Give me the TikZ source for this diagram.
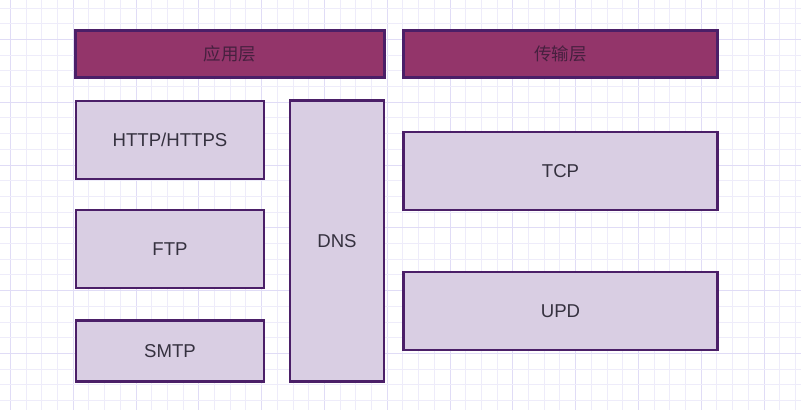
\documentclass[tikz,border=0pt]{standalone}
\usepackage{fontspec}
\setmainfont{Liberation Sans}
\newfontfamily\cjk{Noto Sans CJK SC}
\definecolor{gridminor}{HTML}{EEECFA}
\definecolor{gridmajor}{HTML}{E0DCF6}
\definecolor{headfill}{HTML}{93356A}
\definecolor{headtext}{HTML}{46203F}
\definecolor{boxfill}{HTML}{D9CEE3}
\definecolor{boxdraw}{HTML}{4B1F68}
\definecolor{boxtext}{HTML}{35313F}
\begin{document}
\begin{tikzpicture}[x=1pt,y=-1pt,
  gridline/.style={draw=gridminor,line width=0.9pt},
  gridbold/.style={draw=gridmajor,line width=1pt},
  basebox/.style={rectangle,draw=boxdraw,line width=2.2pt,inner sep=0pt,
    font=\fontsize{18.6}{22}\selectfont},
  headbox/.style={basebox,fill=headfill,text=headtext,font=\cjk\fontsize{17.5}{20}\selectfont},
  protobox/.style={basebox,fill=boxfill,text=boxtext}]
\fill[white] (0,0) rectangle (801,410);
\useasboundingbox (0,0) rectangle (801,410);
% grid
\foreach \k in {0,...,50} {
  \pgfmathsetmacro{\xx}{10.4+15.7*\k}
  \pgfmathtruncatemacro{\m}{mod(\k,4)}
  \ifnum\m=0
    \draw[gridbold] (\xx,0) -- (\xx,410);
  \else
    \draw[gridline] (\xx,0) -- (\xx,410);
  \fi
}
\foreach \k in {0,...,26} {
  \pgfmathsetmacro{\yy}{8+15.7*\k}
  \pgfmathtruncatemacro{\m}{mod(\k,4)}
  \ifnum\m=2
    \draw[gridbold] (0,\yy) -- (801,\yy);
  \else
    \draw[gridline] (0,\yy) -- (801,\yy);
  \fi
}
% boxes
\node[headbox,minimum width=309pt,minimum height=47pt] (app) at (230,54) {应用层};
\node[headbox,minimum width=314pt,minimum height=47pt] (trans) at (560.5,54) {传输层};
\node[protobox,minimum width=188.5pt,minimum height=78.5pt] (http) at (170,140) {HTTP/HTTPS};
\node[protobox,minimum width=188.5pt,minimum height=78pt] (ftp) at (170,249) {FTP};
\node[protobox,minimum width=188.5pt,minimum height=61pt] (smtp) at (170,351) {SMTP};
\node[protobox,minimum width=94.5pt,minimum height=281pt] (dns) at (337,241) {DNS};
\node[protobox,minimum width=314pt,minimum height=78.5pt] (tcp) at (560.5,171) {TCP};
\node[protobox,minimum width=314pt,minimum height=78.5pt] (upd) at (560.5,311) {UPD};
\end{tikzpicture}
\end{document}
